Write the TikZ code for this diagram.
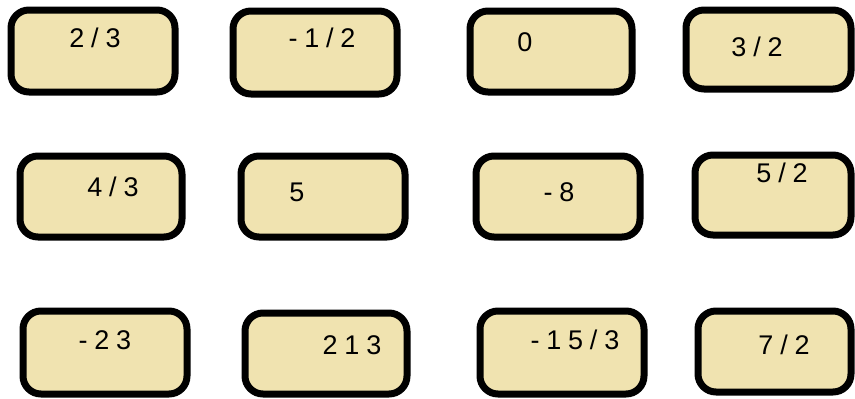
\documentclass[tikz,border=0pt]{standalone}
\usepackage{fontspec}
\setmainfont{Liberation Sans}[LetterSpace=25]
\definecolor{cardfill}{HTML}{F0E3B0}
\definecolor{rim}{HTML}{000000}
\newcommand{\PageW}{855}
\newcommand{\PageH}{399}

\begin{document}
\begin{tikzpicture}[x=1pt, y=-1pt, font=\fontsize{27}{32}\selectfont,
    card/.style={fill=cardfill, draw=rim, line width=7pt, rounded corners=18},
    num/.style={inner sep=0pt},
  ]
% --- Page --------------------------------------------------------------------------------
\useasboundingbox (0,0) rectangle (\PageW,\PageH);
\fill[white] (0,0) rectangle (\PageW,\PageH);

% --- The cards (rim x0/y0/x1/y1, then where the number sits) -------------------------------
\foreach \x/\y/\X/\Y/\tx/\ty/\id/\val in {
    11/10/175/92/95/38/a/{2/3},      233/11/397/94/322/38/b/{-1/2},
    470/11/632/92/525/42/c/{0},      686/10/851/89/757/47/d/{3/2},
    20/156/182/237/113/187/e/{4/3},  241/156/405/237/297/192/f/{5},
    476/156/640/237/559/192/g/{-8},  695/155/851/235/782/173/h/{5/2},
    23/311/187/394/105/340/i/{-23},  245/313/407/394/352/345/j/{213},
    480/311/644/394/575/340/k/{-15/3}, 698/311/851/392/784/345/l/{7/2}} {
  \draw[card] (\x,\y) rectangle (\X,\Y);
  \node[num] (\id) at (\tx,\ty) {\val};
}
\end{tikzpicture}
\end{document}
